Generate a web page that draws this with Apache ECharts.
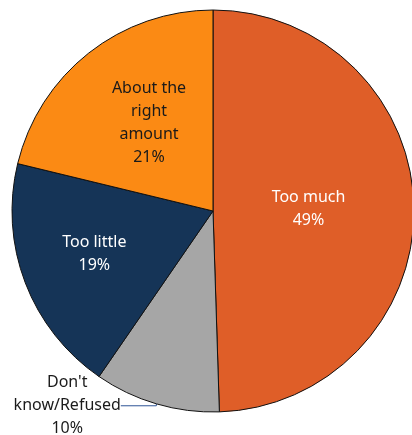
<!DOCTYPE html>
<html>
<head>
<meta charset="utf-8">
<script src="https://cdn.jsdelivr.net/npm/echarts@6/dist/echarts.min.js"></script>
<style>
  html, body { margin: 0; padding: 0; background: #fff; }
  #chart { width: 412px; height: 435px; }
</style>
</head>
<body>
<div id="chart"></div>
<script>
// slices, clockwise from 12 o'clock
var categories = ['Too much', "Don't\nknow/Refused", 'Too little', 'About the\nright\namount'];
var values = [49, 10, 19, 21];
var colors = ['#DF5E28', '#A6A6A6', '#153457', '#FB8A14'];
var labelColors = ['#fff', '#1a1a1a', '#fff', '#1a1a1a'];
// nudges for the inside labels
var labelOffsets = [[-8, 0], [0, 0], [-22, 6], [0, -7]];

var chart = echarts.init(document.getElementById('chart'));

var data = [];
for (var i = 0; i < categories.length; i++) {
    var item = {
        name: categories[i],
        value: values[i],
        itemStyle: { color: colors[i] },
        label: { color: labelColors[i], offset: labelOffsets[i] }
    };
    if (i === 1) {
        // small slice: label outside with a leader line
        item.label = {
            position: 'outside',
            color: labelColors[i],
            align: 'center'
        };
        item.labelLine = {
            show: true,
            length: 2,
            length2: 38,
            lineStyle: { color: '#2F5597', width: 1 }
        };
    }
    data.push(item);
}

var option = {
    animation: false,
    series: [{
        type: 'pie',
        center: [213, 211],
        radius: [0, 201],
        startAngle: 90,
        clockwise: true,
        avoidLabelOverlap: false,
        itemStyle: { borderColor: '#111', borderWidth: 1 },
        label: {
            show: true,
            position: 'inside',
            fontFamily: 'Noto Sans',
            fontSize: 16,
            lineHeight: 23,
            formatter: function (p) { return p.name + '\n' + p.value + '%'; }
        },
        labelLine: { show: false },
        labelLayout: function (p) {
            if (p.dataIndex !== 1) return {};
            var pts = p.labelLinePoints;
            var end = pts[pts.length - 1];
            return {
                x: end[0] - p.labelRect.width / 2 + 3,
                y: end[1],
                align: 'center',
                verticalAlign: 'middle'
            };
        },
        emphasis: { disabled: true },
        data: data
    }]
};
chart.setOption(option);
</script>
</body>
</html>
